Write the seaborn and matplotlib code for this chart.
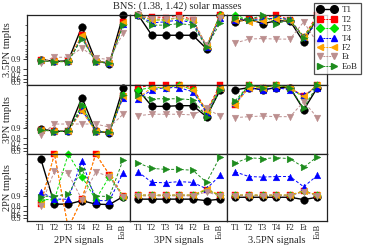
import numpy as np
import pandas as pd
import matplotlib
matplotlib.use("Agg")
import matplotlib.pyplot as plt
import seaborn as sns
from matplotlib.lines import Line2D

# ---------------- data ----------------
signals = ["T1", "T2", "T3", "T4", "F2", "Et", "EoB"]
series = ["T1", "T2", "T3", "T4", "F2", "Et", "EoB"]
row_labels = ["3.5PN tmplts", "3PN tmplts", "2PN tmplts"]
col_labels = ["2PN signals", "3PN signals", "3.5PN signals"]
title = "BNS: (1.38, 1.42) solar masses"
ytick_vals = [0.5, 0.6, 0.7, 0.8, 0.9]
ytick_labels = ["0.5", "0.6", "0.7", "0.8", "0.9"]
yminor_vals = [0.91, 0.92, 0.93, 0.94, 0.95, 0.96, 0.97, 0.98, 0.99]

# 3.5PN templates
p35_sig2 = {
    "T1":  [0.895, 0.880, 0.885, 0.989, 0.885, 0.860, 0.995],
    "T2":  [0.890, 0.880, 0.880, 0.980, 0.880, 0.870, 0.992],
    "T3":  [0.890, 0.880, 0.880, 0.977, 0.880, 0.870, 0.991],
    "T4":  [0.890, 0.880, 0.880, 0.978, 0.880, 0.870, 0.991],
    "F2":  [0.890, 0.880, 0.880, 0.981, 0.880, 0.870, 0.992],
    "Et":  [0.870, 0.910, 0.910, 0.952, 0.905, 0.895, 0.983],
    "EoB": [0.885, 0.878, 0.878, 0.975, 0.878, 0.868, 0.990],
}
p35_sig3 = {
    "T1":  [0.995, 0.980, 0.980, 0.980, 0.980, 0.950, 0.995],
    "T2":  [0.995, 0.9944, 0.994, 0.995, 0.993, 0.958, 0.995],
    "T3":  [0.995, 0.993, 0.993, 0.994, 0.992, 0.958, 0.995],
    "T4":  [0.995, 0.9915, 0.992, 0.993, 0.9915, 0.956, 0.994],
    "F2":  [0.995, 0.993, 0.993, 0.994, 0.993, 0.958, 0.995],
    "Et":  [0.995, 0.9935, 0.9935, 0.994, 0.993, 0.960, 0.994],
    "EoB": [0.995, 0.990, 0.990, 0.991, 0.990, 0.955, 0.9915],
}
p35_sig35 = {
    "T1":  [0.992, 0.9934, 0.991, 0.9925, 0.9925, 0.968, 0.9944],
    "T2":  [0.993, 0.9935, 0.994, 0.995, 0.993, 0.978, 0.995],
    "T3":  [0.995, 0.993, 0.993, 0.994, 0.993, 0.978, 0.994],
    "T4":  [0.993, 0.993, 0.993, 0.994, 0.993, 0.977, 0.9915],
    "F2":  [0.993, 0.992, 0.9925, 0.9935, 0.9925, 0.978, 0.9935],
    "Et":  [0.966, 0.974, 0.975, 0.974, 0.974, 0.992, 0.966],
    "EoB": [0.994, 0.993, 0.995, 0.991, 0.993, 0.976, 0.993],
}
# 3PN templates
p3_sig2 = {
    "T1":  [0.895, 0.876, 0.876, 0.988, 0.876, 0.862, 0.994],
    "T2":  [0.890, 0.875, 0.878, 0.975, 0.875, 0.870, 0.989],
    "T3":  [0.890, 0.875, 0.878, 0.978, 0.875, 0.870, 0.990],
    "T4":  [0.890, 0.875, 0.878, 0.972, 0.875, 0.870, 0.988],
    "F2":  [0.890, 0.875, 0.878, 0.969, 0.875, 0.870, 0.989],
    "Et":  [0.840, 0.925, 0.925, 0.925, 0.925, 0.907, 0.962],
    "EoB": [0.888, 0.873, 0.876, 0.980, 0.873, 0.868, 0.990],
}
p3_sig3 = {
    "T1":  [0.993, 0.978, 0.978, 0.979, 0.979, 0.955, 0.993],
    "T2":  [0.994, 0.995, 0.995, 0.995, 0.994, 0.970, 0.995],
    "T3":  [0.993, 0.994, 0.994, 0.995, 0.993, 0.968, 0.994],
    "T4":  [0.987, 0.993, 0.994, 0.994, 0.992, 0.966, 0.994],
    "F2":  [0.988, 0.994, 0.994, 0.995, 0.993, 0.970, 0.994],
    "Et":  [0.958, 0.962, 0.962, 0.962, 0.960, 0.975, 0.956],
    "EoB": [0.990, 0.987, 0.987, 0.987, 0.986, 0.955, 0.993],
}
p3_sig35 = {
    "T1":  [0.993, 0.994, 0.993, 0.994, 0.994, 0.972, 0.994],
    "T2":  [0.980, 0.995, 0.994, 0.995, 0.994, 0.989, 0.995],
    "T3":  [0.983, 0.995, 0.994, 0.995, 0.994, 0.988, 0.995],
    "T4":  [0.982, 0.994, 0.993, 0.994, 0.993, 0.990, 0.994],
    "F2":  [0.980, 0.994, 0.994, 0.995, 0.994, 0.989, 0.995],
    "Et":  [0.952, 0.955, 0.957, 0.955, 0.955, 0.984, 0.952],
    "EoB": [0.985, 0.995, 0.994, 0.995, 0.994, 0.975, 0.995],
}
# 2PN templates
p2_sig2 = {
    "T1":  [0.993, 0.820, 0.820, 0.860, 0.820, 0.815, 0.895],
    "T2":  [0.825, 0.995, 0.000, 0.874, 0.995, 0.978, 0.900],
    "T3":  [0.870, 0.870, 0.995, 0.975, 0.870, 0.975, 0.895],
    "T4":  [0.926, 0.874, 0.874, 0.992, 0.860, 0.860, 0.981],
    "F2":  [0.825, 0.995, 0.000, 0.874, 0.995, 0.978, 0.900],
    "Et":  [0.800, 0.983, 0.980, 0.870, 0.982, 0.975, 0.890],
    "EoB": [0.895, 0.900, 0.910, 0.985, 0.900, 0.895, 0.9925],
}
p2_sig3 = {
    "T1":  [0.874, 0.874, 0.874, 0.874, 0.874, 0.860, 0.874],
    "T2":  [0.905, 0.905, 0.905, 0.905, 0.905, 0.935, 0.905],
    "T3":  [0.905, 0.905, 0.905, 0.905, 0.905, 0.935, 0.905],
    "T4":  [0.982, 0.962, 0.961, 0.964, 0.962, 0.940, 0.977],
    "F2":  [0.905, 0.905, 0.905, 0.905, 0.905, 0.940, 0.905],
    "Et":  [0.900, 0.900, 0.900, 0.900, 0.900, 0.925, 0.900],
    "EoB": [0.9905, 0.986, 0.985, 0.985, 0.984, 0.962, 0.994],
}
p2_sig35 = {
    "T1":  [0.890, 0.890, 0.890, 0.890, 0.890, 0.870, 0.890],
    "T2":  [0.905, 0.905, 0.905, 0.905, 0.905, 0.930, 0.905],
    "T3":  [0.905, 0.905, 0.905, 0.905, 0.905, 0.930, 0.905],
    "T4":  [0.982, 0.975, 0.974, 0.975, 0.975, 0.948, 0.977],
    "F2":  [0.905, 0.905, 0.905, 0.905, 0.905, 0.930, 0.905],
    "Et":  [0.900, 0.900, 0.900, 0.900, 0.900, 0.925, 0.900],
    "EoB": [0.9905, 0.9935, 0.993, 0.9935, 0.993, 0.987, 0.994],
}

panels = [[p35_sig2, p35_sig3, p35_sig35],
          [p3_sig2, p3_sig3, p3_sig35],
          [p2_sig2, p2_sig3, p2_sig35]]

# ---------------- style ----------------
colors = {"T1": "#000000", "T2": "#ff0000", "T3": "#00e000", "T4": "#0000ff",
          "F2": "#ffa500", "Et": "#bc8f8f", "EoB": "#1e8c1e"}
markers = {"T1": "o", "T2": "s", "T3": "D", "T4": "^", "F2": "<", "Et": "v", "EoB": ">"}
msizes = {"T1": 5.5, "T2": 4.3, "T3": 3.8, "T4": 4.8, "F2": 4.8, "Et": 4.8, "EoB": 4.8}

sns.set_theme(style="white")
plt.rcParams['font.family'] = ['Liberation Serif', 'DejaVu Serif']


def fwd(y):
    y = np.asarray(y, dtype=float)
    return -np.log10(np.clip(1.0 - y, 1e-6, None))


def inv(f):
    f = np.asarray(f, dtype=float)
    return 1.0 - 10.0 ** (-f)


W, H = 374, 247
fig = plt.figure(figsize=(W / 100, H / 100), dpi=100)
col_x = [27, 130, 227, 327]
row_y = [15, 85, 154, 221]
xlims = [(-1.0, 6.5), (-0.6, 6.5), (-0.6, 6.7)]
YLIM = (0.4, 0.995)
xs = np.arange(len(signals))

for r in range(3):
    for c in range(3):
        x0 = col_x[c] / W
        w = (col_x[c + 1] - col_x[c]) / W
        y0 = 1 - row_y[r + 1] / H
        h = (row_y[r + 1] - row_y[r]) / H
        ax = fig.add_axes([x0, y0, w, h])
        data = panels[r][c]
        for i, s in enumerate(series):
            vals = np.array(data[s], dtype=float)
            df = pd.DataFrame({"x": xs, "y": vals})
            ls = "-" if s == "T1" else (0, (3, 2))
            lw = 1.0 if s == "T1" else 0.7
            sns.lineplot(data=df, x="x", y="y", ax=ax, color=colors[s],
                         linewidth=lw, linestyle=ls, sort=False,
                         estimator=None, legend=False, zorder=2 + i * 0.1)
            m = (vals >= YLIM[0]) & (vals <= YLIM[1] + 1e-9)
            sns.scatterplot(data=df[m], x="x", y="y", ax=ax, marker=markers[s],
                            s=msizes[s] ** 2, color=colors[s],
                            edgecolor=colors[s], linewidth=0.3,
                            clip_on=False, legend=False, zorder=2.05 + i * 0.1)
        ax.set_yscale("function", functions=(fwd, inv))
        ax.set_xlim(*xlims[c])
        ax.set_ylim(*YLIM)
        ax.set_xlabel("")
        ax.set_ylabel("")
        for sp in ax.spines.values():
            sp.set_linewidth(0.9)
            sp.set_color("#222222")
        ax.set_xticks(xs)
        if r == 2:
            ax.set_xticklabels(signals, fontsize=6)
            ax.get_xticklabels()[-1].set_rotation(90)
            ax.get_xticklabels()[-1].set_va("top")
        else:
            ax.set_xticklabels([])
        ax.tick_params(axis="x", length=0, pad=2)
        if c == 0:
            ax.set_yticks(ytick_vals)
            ax.set_yticklabels(ytick_labels, fontsize=6)
            ax.set_yticks(yminor_vals, minor=True)
            ax.tick_params(axis="y", which="major", direction="out", length=3,
                           width=0.6, pad=1, left=True, colors="#222222")
            ax.tick_params(axis="y", which="minor", direction="out", length=1.8,
                           width=0.5, left=True, color="#222222")
            ax.yaxis.set_minor_formatter(matplotlib.ticker.NullFormatter())
        else:
            ax.set_yticks([])
            ax.set_yticks([], minor=True)

# row labels
for r in range(3):
    yc = 1 - (row_y[r] + row_y[r + 1]) / 2 / H
    fig.text(8 / W, yc, row_labels[r], rotation=90, ha="center", va="center",
             fontsize=7.5)
# column labels
for c in range(3):
    xc = (col_x[c] + col_x[c + 1]) / 2 / W
    fig.text(xc, 1 - 240 / H, col_labels[c], ha="center", va="center",
             fontsize=7.5)

fig.text((col_x[0] + col_x[-1]) / 2 / W, 1 - 6 / H, title, ha="center",
         va="center", fontsize=7.5)

handles = [Line2D([0], [0], color=colors[s], marker=markers[s],
                  markersize=msizes[s], linestyle="-" if s == "T1" else (0, (2, 1)),
                  linewidth=1.0 if s == "T1" else 0.7)
           for s in series]
leg = fig.legend(handles, series, loc="upper left",
                 bbox_to_anchor=(314 / W, 1 - 3 / H), frameon=True,
                 fancybox=False, edgecolor="#222222", fontsize=6.5,
                 numpoints=2, handlelength=2.2, borderpad=0.35,
                 labelspacing=0.12, handletextpad=0.5, borderaxespad=0)
leg.get_frame().set_linewidth(0.9)

fig.savefig("out.png", dpi=100, facecolor="white")
